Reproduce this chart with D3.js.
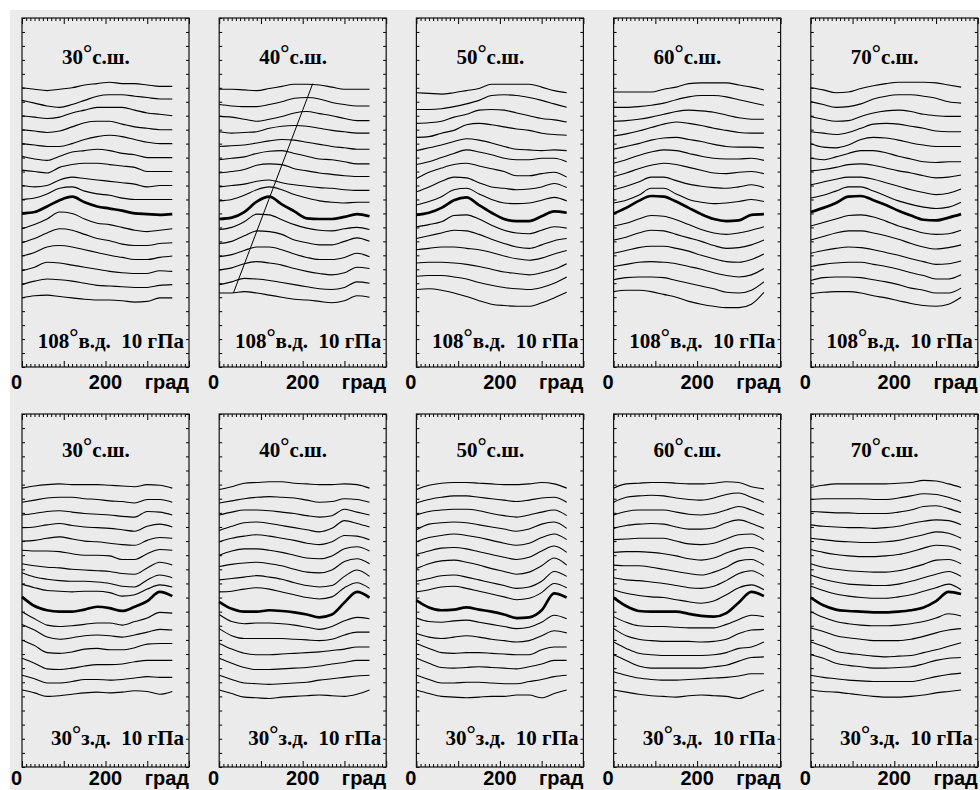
<!DOCTYPE html>
<html>
<head>
<meta charset="utf-8">
<script src="https://cdn.jsdelivr.net/npm/d3@7"></script>
<style>
  body { margin: 0; background: #fff; }
  text, tspan { white-space: pre; }
</style>
</head>
<body>
<script>
const lons = [0, 30, 60, 90, 120, 150, 180, 210, 240, 270, 300, 330, 360];

const latTitles = ["30°с.ш.", "40°с.ш.", "50°с.ш.", "60°с.ш.", "70°с.ш."];
const rowLabels = ["108°в.д.  10 гПа", "30°з.д.  10 гПа"];
const xTickValues = [0, 200];
const xUnit = "град";

// profiles, top line first; index 9 is the bold one
const east30 = [
  [20.0,19.9,19.8,19.9,20.0,20.2,20.3,20.4,20.3,20.3,20.2,20.1,20.1],
  [19.1,18.9,18.7,18.6,18.8,19.1,19.4,19.5,19.5,19.4,19.3,19.2,19.2],
  [18.0,17.9,17.8,17.9,18.2,18.4,18.6,18.6,18.6,18.4,18.2,18.1,18.0],
  [17.0,16.9,16.8,16.9,17.2,17.5,17.6,17.6,17.4,17.2,17.1,17.0,17.0],
  [16.0,15.9,15.8,15.8,16.0,16.3,16.5,16.6,16.5,16.3,16.1,16.0,16.0],
  [15.1,14.9,14.8,15.1,15.4,15.5,15.6,15.5,15.3,15.2,15.0,15.0,15.0],
  [14.1,14.0,13.9,14.3,14.5,14.6,14.6,14.5,14.4,14.3,14.0,14.0,14.0],
  [13.0,12.9,13.0,13.4,13.6,13.5,13.4,13.3,13.2,13.1,12.9,13.0,13.0],
  [12.0,12.1,12.4,12.8,12.9,12.6,12.4,12.3,12.1,12.0,12.0,12.0,12.0],
  [11.0,11.1,11.5,11.95,12.2,11.8,11.5,11.35,11.2,11.0,10.95,10.9,10.95],
  [9.9,10.2,10.6,11.1,11.0,10.6,10.3,10.2,10.0,9.8,9.7,9.8,9.9],
  [8.9,9.2,9.6,9.9,9.8,9.5,9.2,9.05,8.8,8.7,8.7,8.85,8.9],
  [7.95,8.2,8.6,8.7,8.6,8.4,8.2,8.0,7.85,7.7,7.7,7.85,7.95],
  [6.9,7.15,7.5,7.45,7.3,7.15,7.0,6.85,6.75,6.7,6.7,6.9,6.85],
  [5.9,6.15,6.3,6.25,6.15,6.0,5.85,5.8,5.75,5.7,5.7,5.85,5.9],
  [4.95,5.1,5.15,5.05,4.95,4.85,4.8,4.8,4.75,4.65,4.7,4.95,4.95]
];
const east40 = [
  [19.9,19.9,19.85,19.8,19.95,20.1,20.25,20.25,20.2,20.05,19.9,19.9,19.9],
  [18.8,18.7,18.65,18.65,18.8,19.0,19.25,19.3,19.2,18.95,18.8,18.7,18.7],
  [17.95,17.9,17.75,17.6,17.75,17.95,18.2,18.3,18.15,18.0,17.8,17.65,17.65],
  [16.85,16.75,16.8,16.85,17.1,17.25,17.3,17.25,17.1,16.95,16.85,16.75,16.75],
  [15.8,15.85,15.9,16.05,16.2,16.3,16.25,16.1,15.95,15.8,15.7,15.6,15.6],
  [14.85,14.95,15.05,15.3,15.45,15.5,15.3,15.1,14.9,14.85,14.7,14.55,14.55],
  [13.9,14.0,14.15,14.45,14.55,14.5,14.2,14.05,13.9,13.8,13.7,13.65,13.65],
  [12.9,13.0,13.1,13.3,13.4,13.2,13.05,12.95,12.85,12.8,12.7,12.65,12.65],
  [11.9,12.0,12.3,12.7,12.9,12.7,12.35,12.1,11.9,11.8,11.75,11.8,11.8],
  [10.6,10.7,11.1,11.85,12.2,11.65,11.15,10.65,10.6,10.6,10.75,10.95,10.8],
  [9.85,10.0,10.4,10.95,10.9,10.55,10.2,9.95,9.8,9.75,9.9,10.0,9.85],
  [8.85,9.0,9.4,9.75,9.7,9.5,9.1,8.9,8.75,8.75,9.0,9.25,9.0],
  [7.9,8.05,8.35,8.6,8.6,8.4,8.1,7.85,7.7,7.7,7.85,8.15,7.9],
  [6.95,7.1,7.4,7.55,7.45,7.3,7.05,6.85,6.7,6.6,6.75,7.15,7.05],
  [5.9,6.1,6.35,6.3,6.2,6.05,5.9,5.75,5.6,5.55,5.7,6.1,6.0],
  [5.3,5.3,5.4,5.3,5.15,5.0,4.85,4.8,4.7,4.6,4.75,5.1,5.0]
];
const east50 = [
  [19.65,19.6,19.55,19.65,19.8,19.95,20.25,20.25,20.25,20.25,20.05,19.8,19.65],
  [18.45,18.45,18.5,18.65,18.85,19.1,19.45,19.5,19.45,19.3,19.1,18.85,18.6],
  [17.45,17.5,17.6,17.9,18.1,18.4,18.45,18.4,18.2,18.0,17.8,17.7,17.55],
  [16.45,16.5,16.75,16.95,17.35,17.45,17.35,17.2,17.05,16.95,16.75,16.65,16.6],
  [15.5,15.7,15.9,16.15,16.35,16.25,16.05,15.8,15.6,15.55,15.5,15.55,15.5],
  [14.5,14.7,15.0,15.3,15.55,15.4,15.2,14.95,14.85,14.85,14.95,14.95,14.7],
  [13.5,13.95,14.25,14.5,14.6,14.4,14.2,14.0,13.7,13.7,13.85,13.95,13.6],
  [12.55,12.9,13.3,13.6,13.55,13.2,12.9,12.8,12.7,12.75,12.9,13.15,12.85],
  [11.6,11.85,12.2,12.7,12.8,12.4,12.0,11.75,11.7,11.75,11.95,12.15,11.9],
  [10.9,11.05,11.4,11.95,12.15,11.6,11.05,10.6,10.45,10.45,10.8,11.15,11.05],
  [10.05,10.2,10.4,10.85,10.9,10.6,10.15,9.8,9.6,9.55,9.8,10.05,9.95],
  [9.2,9.4,9.6,9.8,9.75,9.5,9.15,8.85,8.6,8.5,8.75,9.05,9.2],
  [8.4,8.5,8.6,8.6,8.5,8.4,8.2,7.95,7.75,7.65,7.8,8.1,8.35],
  [7.45,7.5,7.5,7.45,7.35,7.2,7.0,6.8,6.7,6.6,6.75,7.0,7.4],
  [6.5,6.55,6.55,6.45,6.3,6.05,5.85,5.7,5.6,5.55,5.7,6.0,6.45],
  [5.55,5.6,5.5,5.3,5.05,4.75,4.5,4.4,4.35,4.35,4.6,4.95,5.35]
];
const east60 = [
  [19.7,19.7,19.7,19.7,19.9,20.05,20.3,20.35,20.35,20.35,20.2,20.05,19.85],
  [18.6,18.6,18.65,18.75,18.9,19.15,19.35,19.45,19.45,19.35,19.15,18.95,18.75],
  [17.6,17.65,17.75,17.9,18.1,18.3,18.4,18.35,18.25,18.05,17.85,17.75,17.75],
  [16.55,16.7,16.9,17.15,17.4,17.55,17.45,17.3,17.1,16.95,16.8,16.75,16.75],
  [15.6,15.8,16.0,16.25,16.4,16.45,16.3,16.15,15.95,15.8,15.75,15.75,15.7],
  [14.6,14.85,15.15,15.4,15.55,15.5,15.3,15.1,14.95,14.9,14.9,14.95,14.8],
  [13.65,13.9,14.2,14.45,14.6,14.5,14.3,14.1,13.9,13.85,13.95,14.0,13.85],
  [12.7,12.95,13.25,13.6,13.6,13.35,13.1,12.95,12.85,12.8,12.9,13.05,12.85],
  [11.75,11.95,12.3,12.8,12.8,12.4,12.0,11.8,11.7,11.75,11.85,12.0,11.85],
  [11.0,11.4,11.9,12.25,12.2,11.85,11.4,10.95,10.6,10.45,10.5,10.9,10.95],
  [10.1,10.3,10.6,10.85,10.8,10.55,10.2,9.85,9.6,9.5,9.6,9.8,10.05],
  [9.1,9.3,9.6,9.8,9.75,9.5,9.25,9.0,8.7,8.5,8.55,8.75,9.1],
  [8.15,8.35,8.55,8.65,8.65,8.5,8.3,8.0,7.75,7.55,7.5,7.7,8.1],
  [7.2,7.35,7.5,7.55,7.5,7.4,7.2,7.0,6.75,6.55,6.45,6.6,7.05],
  [6.25,6.4,6.45,6.45,6.4,6.2,6.0,5.8,5.6,5.35,5.3,5.5,6.1],
  [5.4,5.5,5.5,5.4,5.2,5.0,4.7,4.5,4.35,4.25,4.25,4.5,5.35]
];
const east70 = [
  [20.0,19.85,19.65,19.7,19.95,20.15,20.3,20.4,20.4,20.4,20.35,20.2,20.05],
  [19.0,18.8,18.6,18.65,18.85,19.2,19.4,19.5,19.5,19.4,19.25,19.0,18.9],
  [17.95,17.75,17.6,17.65,17.95,18.2,18.35,18.4,18.3,18.1,18.0,17.95,17.95],
  [16.85,16.75,16.65,16.8,17.1,17.4,17.45,17.4,17.25,17.1,16.9,16.85,16.85],
  [16.0,15.75,15.7,15.9,16.3,16.45,16.4,16.25,16.05,15.9,15.8,15.8,15.8],
  [14.95,14.85,15.05,15.3,15.5,15.5,15.35,15.1,14.9,14.7,14.65,14.7,14.7],
  [14.05,14.15,14.3,14.5,14.55,14.45,14.25,14.05,13.9,13.7,13.55,13.6,13.75],
  [13.05,13.25,13.45,13.6,13.6,13.45,13.2,12.95,12.7,12.5,12.35,12.45,12.75],
  [12.1,12.3,12.6,12.9,12.9,12.6,12.25,11.9,11.65,11.45,11.35,11.45,11.8],
  [11.1,11.4,11.75,12.2,12.25,11.95,11.6,11.2,10.85,10.55,10.5,10.7,10.95],
  [10.1,10.35,10.6,10.85,10.9,10.75,10.45,10.1,9.85,9.6,9.5,9.55,9.8],
  [9.1,9.35,9.6,9.75,9.75,9.6,9.4,9.15,8.85,8.6,8.45,8.55,8.75],
  [8.15,8.35,8.5,8.6,8.55,8.4,8.2,8.0,7.75,7.55,7.35,7.4,7.6],
  [7.2,7.35,7.45,7.5,7.5,7.35,7.2,7.0,6.75,6.55,6.3,6.3,6.6],
  [6.2,6.4,6.45,6.45,6.4,6.25,6.1,5.9,5.65,5.5,5.3,5.3,5.65],
  [5.25,5.35,5.4,5.4,5.3,5.1,4.95,4.75,4.55,4.4,4.35,4.5,5.0]
];
const west30 = [
  [19.75,19.9,20.0,20.05,20.0,20.0,20.0,19.95,19.9,19.85,20.0,19.95,19.75],
  [18.75,18.9,19.05,19.1,19.1,19.0,18.95,18.85,18.8,18.7,18.95,18.95,18.75],
  [17.85,17.95,18.1,18.15,18.05,17.95,17.9,17.85,17.75,17.7,18.1,18.05,17.85],
  [16.95,17.0,17.15,17.25,17.1,17.0,16.95,16.9,16.8,16.7,17.05,17.2,17.0],
  [16.0,16.05,16.2,16.3,16.15,16.0,15.95,15.85,15.75,15.7,16.05,16.25,16.2],
  [15.35,15.3,15.3,15.25,15.1,15.0,15.0,14.95,14.7,14.7,15.1,15.4,15.35],
  [14.4,14.25,14.15,14.1,14.0,13.95,13.9,13.85,13.7,13.65,14.1,14.5,14.3],
  [13.75,13.45,13.3,13.2,13.15,13.15,13.1,13.0,12.8,12.75,13.25,13.6,13.4],
  [12.95,12.7,12.5,12.45,12.4,12.45,12.45,12.35,12.1,12.2,12.6,12.9,12.75],
  [12.05,11.4,11.1,11.0,11.0,11.15,11.35,11.25,11.05,11.35,11.75,12.4,12.1],
  [11.0,10.5,10.05,9.95,10.0,10.1,10.2,10.2,10.05,10.3,10.55,10.95,10.9],
  [10.1,9.7,9.2,9.05,9.15,9.3,9.35,9.3,9.2,9.35,9.55,9.75,9.7],
  [9.0,8.6,8.1,8.05,8.15,8.35,8.4,8.3,8.3,8.45,8.7,8.75,8.75],
  [7.7,7.35,6.95,6.9,7.0,7.15,7.25,7.25,7.3,7.45,7.55,7.55,7.55],
  [6.5,6.25,5.95,5.95,6.05,6.2,6.2,6.15,6.2,6.3,6.4,6.35,6.35],
  [5.45,5.25,5.0,5.05,5.15,5.25,5.3,5.25,5.3,5.4,5.35,5.15,5.35]
];
const west40 = [
  [19.65,19.85,20.1,20.15,20.2,20.2,20.1,20.05,20.0,20.0,20.05,20.0,19.75],
  [18.7,18.85,19.0,19.1,19.15,19.1,19.05,18.9,18.75,18.8,19.0,18.95,18.75],
  [17.85,18.05,18.2,18.2,18.15,18.05,17.95,17.8,17.7,17.8,18.25,18.05,17.85],
  [16.75,17.05,17.3,17.35,17.25,17.1,16.95,16.8,16.65,16.9,17.45,17.25,17.0],
  [15.95,16.2,16.35,16.45,16.35,16.2,16.05,15.85,15.75,15.95,16.4,16.35,16.1],
  [15.0,15.3,15.45,15.45,15.35,15.2,15.0,14.8,14.75,14.95,15.45,15.6,15.3],
  [14.2,14.35,14.45,14.5,14.4,14.25,14.0,13.8,13.75,13.95,14.55,14.75,14.4],
  [13.25,13.35,13.45,13.55,13.45,13.3,13.05,12.85,12.75,12.85,13.5,13.95,13.5],
  [12.4,12.45,12.6,12.7,12.6,12.4,12.2,12.0,11.9,12.05,12.7,13.05,12.65],
  [11.7,11.2,11.0,11.0,11.1,11.05,10.95,10.8,10.6,10.8,11.65,12.4,12.0],
  [10.8,10.3,10.15,10.2,10.2,10.15,10.05,9.9,9.75,9.95,10.35,10.6,10.5],
  [9.8,9.3,9.1,9.1,9.1,9.1,9.05,9.0,8.95,9.05,9.35,9.55,9.55],
  [8.75,8.35,8.05,7.95,7.95,8.0,8.05,8.1,8.15,8.25,8.35,8.5,8.5],
  [7.7,7.35,7.05,6.9,6.9,6.95,7.0,7.05,7.15,7.3,7.4,7.55,7.55],
  [6.5,6.2,5.95,5.9,5.85,5.9,5.95,6.0,6.15,6.25,6.35,6.45,6.5],
  [5.45,5.2,4.95,4.9,4.85,4.95,5.0,5.05,5.1,5.05,5.0,5.15,5.45]
];
const west50 = [
  [19.65,19.95,20.1,20.15,20.15,20.1,20.05,20.0,20.0,20.05,20.15,20.05,19.75],
  [18.7,18.95,19.1,19.2,19.2,19.1,19.0,18.9,18.8,18.9,19.05,19.1,18.75],
  [17.85,18.1,18.2,18.25,18.25,18.15,17.95,17.8,17.7,17.85,18.05,18.2,17.8],
  [16.8,17.2,17.3,17.35,17.3,17.15,17.0,16.85,16.7,16.85,17.2,17.35,16.9],
  [15.95,16.25,16.4,16.5,16.4,16.25,16.05,15.85,15.7,15.85,16.25,16.5,16.1],
  [15.05,15.3,15.5,15.55,15.45,15.25,15.05,14.85,14.7,14.85,15.3,15.65,15.2],
  [14.05,14.4,14.6,14.65,14.5,14.3,14.05,13.85,13.65,13.8,14.25,14.8,14.3],
  [13.15,13.35,13.55,13.6,13.45,13.25,13.05,12.85,12.65,12.75,13.15,13.85,13.5],
  [12.4,12.55,12.75,12.8,12.65,12.45,12.25,12.05,11.85,11.95,12.35,13.0,12.7],
  [11.8,11.3,11.1,11.15,11.3,11.15,11.0,10.8,10.55,10.6,11.1,12.3,12.0],
  [10.55,10.3,10.25,10.35,10.4,10.25,10.1,9.95,9.8,9.9,10.25,10.75,10.5],
  [9.45,9.2,9.1,9.2,9.3,9.2,9.05,8.95,8.85,8.95,9.3,9.65,9.5],
  [8.75,8.4,8.1,8.05,8.1,8.1,8.05,8.0,7.95,7.95,8.3,8.5,8.5],
  [7.7,7.35,7.05,7.0,7.05,7.1,7.05,7.0,6.95,7.1,7.3,7.55,7.55],
  [6.5,6.2,5.95,5.95,6.0,6.0,5.95,5.9,5.9,6.05,6.2,6.4,6.5],
  [5.45,5.2,5.0,4.95,4.9,4.95,5.0,5.0,5.1,5.1,4.9,5.2,5.45]
];
const west60 = [
  [19.75,20.05,20.1,20.15,20.15,20.1,20.05,20.05,20.1,20.2,20.15,19.85,19.7],
  [18.75,19.1,19.2,19.25,19.2,19.05,18.95,18.9,19.05,19.3,19.4,19.1,18.75],
  [17.85,18.1,18.2,18.2,18.2,18.05,17.9,17.85,17.95,18.2,18.45,18.2,17.85],
  [16.9,17.1,17.2,17.25,17.2,17.0,16.85,16.85,16.95,17.3,17.5,17.25,16.9],
  [16.1,16.15,16.2,16.2,16.2,16.0,15.8,15.75,15.85,16.15,16.45,16.5,16.1],
  [15.2,15.25,15.25,15.2,15.1,14.95,14.75,14.65,14.8,15.15,15.45,15.55,15.25],
  [14.3,14.25,14.25,14.15,14.0,13.85,13.7,13.6,13.8,14.15,14.6,14.7,14.3],
  [13.4,13.25,13.2,13.1,13.0,12.85,12.7,12.65,12.8,13.2,13.7,13.9,13.5],
  [12.55,12.3,12.15,12.05,12.0,11.85,11.7,11.6,11.75,12.2,12.7,12.9,12.55],
  [12.0,11.4,11.05,11.0,11.0,11.0,10.85,10.7,10.65,10.9,11.65,12.4,12.1],
  [10.65,10.25,10.0,9.95,9.95,9.9,9.85,9.85,9.85,10.1,10.45,10.75,10.65],
  [9.8,9.3,9.05,8.95,8.9,8.9,8.9,8.85,8.9,9.05,9.45,9.7,9.75],
  [8.85,8.4,8.05,7.95,7.9,7.9,7.9,7.9,7.95,8.1,8.4,8.5,8.85],
  [7.95,7.55,7.15,7.0,7.0,7.0,7.0,7.0,7.1,7.2,7.5,7.75,7.8],
  [6.75,6.5,6.3,6.2,6.15,6.15,6.2,6.25,6.3,6.35,6.45,6.6,6.6],
  [5.45,5.3,5.15,5.05,5.0,4.95,5.05,5.1,5.05,5.0,4.85,5.15,5.45]
];
const west70 = [
  [19.8,19.95,20.05,20.05,20.05,20.05,20.05,20.1,20.15,20.3,20.25,20.05,19.8],
  [18.95,19.0,19.0,19.0,19.0,18.95,18.95,19.05,19.2,19.35,19.3,19.1,18.8],
  [18.1,18.05,18.0,18.0,17.95,17.95,17.95,18.05,18.2,18.45,18.5,18.3,18.0],
  [17.15,17.05,17.0,16.95,16.95,16.9,16.95,17.05,17.25,17.4,17.5,17.45,17.15],
  [16.2,16.1,16.0,15.95,15.9,15.9,15.95,16.05,16.25,16.45,16.65,16.55,16.2],
  [15.4,15.2,15.05,14.95,14.9,14.9,14.95,15.05,15.25,15.5,15.7,15.65,15.35],
  [14.4,14.15,14.0,13.9,13.85,13.8,13.8,13.9,14.1,14.35,14.65,14.7,14.4],
  [13.6,13.3,13.1,12.95,12.9,12.85,12.85,12.95,13.15,13.4,13.65,13.85,13.5],
  [12.8,12.5,12.25,12.1,12.0,11.95,11.95,12.05,12.2,12.45,12.7,12.95,12.55],
  [12.0,11.45,11.15,11.05,11.0,10.95,10.95,11.0,11.1,11.3,11.75,12.4,12.25],
  [11.0,10.6,10.3,10.15,10.05,10.0,10.0,10.05,10.15,10.3,10.55,10.85,10.7],
  [9.85,9.6,9.3,9.15,9.05,8.95,8.95,8.95,9.05,9.25,9.5,9.7,9.8],
  [8.85,8.55,8.2,8.05,7.95,7.85,7.8,7.85,7.9,8.1,8.3,8.55,8.8],
  [7.95,7.7,7.35,7.2,7.1,7.0,7.0,7.05,7.1,7.3,7.55,7.7,7.75],
  [6.5,6.35,6.25,6.15,6.1,6.05,6.05,6.05,6.05,6.2,6.4,6.55,6.65],
  [5.45,5.35,5.3,5.2,5.1,5.0,4.95,4.95,5.0,5.1,5.25,5.35,5.45]
];

// phase line drawn across the 40N, 108E panel
const tiltLon = [34, 224];
const tiltVal = [5.3, 20.3];

const boldIndex = 9;
const rows = [
  [east30, east40, east50, east60, east70],
  [west30, west40, west50, west60, west70]
];

const W = 980, H = 790;
const rowTop = [18, 414], rowBot = [367, 767];
const titleY = [64, 457], labelY = [348, 745], tickLabelY = [389, 785];
const colLeft = d3.range(5).map(i => 22 + i * 197.2);
const panelW = 167;

// writes a label whose degree sign is drawn bold and raised, as in the original
function degreeText(sel, str) {
    let parts = str.split("°");
    sel.append("tspan").text(parts[0]);
    sel.append("tspan").attr("font-size", 23).attr("dy", -3).text("°");
    sel.append("tspan").attr("dy", 3).text(parts[1]);
}

const svg = d3.select("body").append("svg")
    .attr("width", W)
    .attr("height", H);

svg.append("rect") // grey backdrop
    .attr("x", 10).attr("y", 10)
    .attr("width", W - 10).attr("height", H - 10)
    .attr("fill", "#ebebeb");

rows.forEach((row, r) => {
    row.forEach((profiles, c) => {
        let x = d3.scaleLinear().domain([0, 400]).range([colLeft[c], colLeft[c] + panelW]);
        let y = d3.scaleLinear().domain([0, 25]).range([rowBot[r], rowTop[r]]);
        let g = svg.append("g").attr("class", "panel");

        // ticks on all four sides, pointing inwards
        let topAxis = g.append("g")
            .attr("transform", `translate(0,${rowTop[r]})`)
            .call(d3.axisBottom(x).tickValues(d3.range(0, 401, 10)).tickSize(3).tickFormat(""));
        let botAxis = g.append("g")
            .attr("transform", `translate(0,${rowBot[r]})`)
            .call(d3.axisTop(x).tickValues(d3.range(0, 401, 10)).tickSize(3).tickFormat(""));
        topAxis.selectAll(".tick line").attr("y2", d => d % 100 === 0 ? 6 : 3);
        botAxis.selectAll(".tick line").attr("y2", d => d % 100 === 0 ? -6 : -3);

        g.append("g")
            .attr("transform", `translate(${x(0)},0)`)
            .call(d3.axisRight(y).tickValues(d3.range(0, 26)).tickSize(3).tickFormat(""));
        g.append("g")
            .attr("transform", `translate(${x(400)},0)`)
            .call(d3.axisLeft(y).tickValues(d3.range(0, 26)).tickSize(3).tickFormat(""));
        g.selectAll(".domain").remove();

        g.append("rect")
            .attr("x", x(0)).attr("y", rowTop[r])
            .attr("width", x(400) - x(0)).attr("height", rowBot[r] - rowTop[r])
            .attr("fill", "none").attr("stroke", "#111").attr("stroke-width", 1.2);

        let line = d3.line()
            .x((v, i) => x(lons[i]))
            .y(v => y(v))
            .curve(d3.curveMonotoneX);

        g.selectAll(".profile")
            .data(profiles)
            .enter()
            .append("path")
            .attr("class", "profile")
            .attr("d", line)
            .attr("fill", "none")
            .attr("stroke", "#000")
            .attr("stroke-width", (d, i) => i === boldIndex ? 2.7 : 1.1);

        if (r === 0 && c === 1) {
            g.append("line")
                .attr("x1", x(tiltLon[0])).attr("y1", y(tiltVal[0]))
                .attr("x2", x(tiltLon[1])).attr("y2", y(tiltVal[1]))
                .attr("stroke", "#000").attr("stroke-width", 1);
        }

        g.append("text")
            .attr("x", x(0) + 40).attr("y", titleY[r])
            .attr("font-family", "Liberation Serif, serif")
            .attr("font-weight", "bold")
            .attr("font-size", 21)
            .call(degreeText, latTitles[c]);

        g.append("text")
            .attr("x", x(400) - 5).attr("y", labelY[r])
            .attr("text-anchor", "end")
            .attr("font-family", "Liberation Serif, serif")
            .attr("font-weight", "bold")
            .attr("font-size", 21)
            .call(degreeText, rowLabels[r]);

        let tl = g.append("g")
            .attr("font-family", "Liberation Sans, Arial, sans-serif")
            .attr("font-weight", "bold")
            .attr("font-size", 20);
        tl.selectAll(".xl")
            .data(xTickValues)
            .enter()
            .append("text")
            .attr("x", d => x(d))
            .attr("y", tickLabelY[r])
            .attr("text-anchor", d => d === 0 ? "end" : "middle")
            .text(d => d);
        tl.append("text")
            .attr("x", x(400)).attr("y", tickLabelY[r])
            .attr("text-anchor", "end")
            .text(xUnit);
    });
});
</script>
</body>
</html>
